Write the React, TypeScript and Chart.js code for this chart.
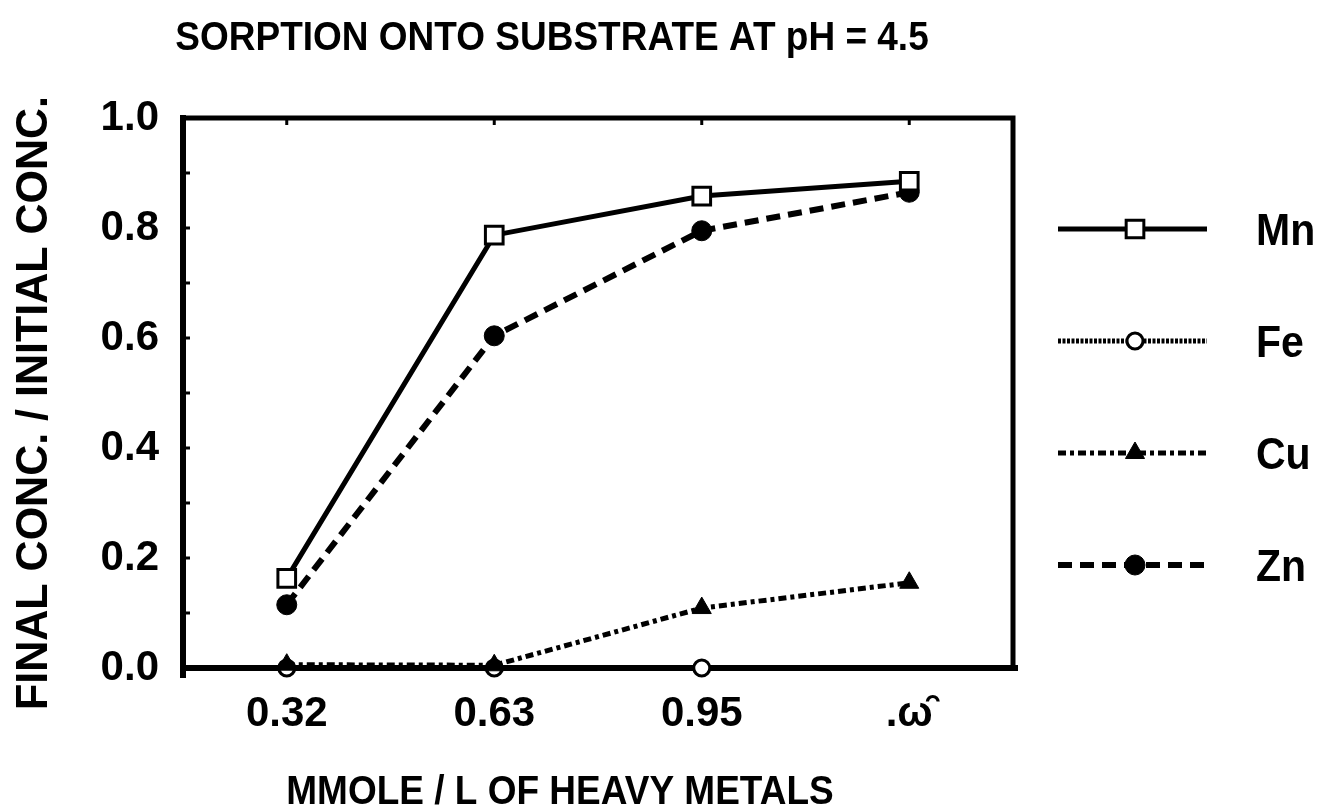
import { useEffect, useRef } from 'react';
import { Chart, registerables } from 'chart.js';
import { drawPoint } from 'chart.js/helpers';

Chart.register(...registerables);

const categories = ['0.32', '0.63', '0.95', '.\u03C9\u0311'];
const mnValues = [0.163, 0.787, 0.858, 0.885];
const feValues = [0.0, 0.0, 0.0, null];
const cuValues = [0.006, 0.005, 0.109, 0.155];
const znValues = [0.115, 0.604, 0.795, 0.865];
const yTicks = [0, 0.2, 0.4, 0.6, 0.8, 1.0];
const seriesNames = ['Mn', 'Fe', 'Cu', 'Zn'];
const titleText = 'SORPTION ONTO SUBSTRATE AT pH = 4.5';
const xTitleText = 'MMOLE / L OF HEAVY METALS';
const yTitleText = 'FINAL CONC. / INITIAL CONC.';

const FAMILY = '"Liberation Sans", Arial, Helvetica, sans-serif';

const framePlugin = {
  id: 'frame',
  beforeDatasetsDraw(chart: any) {
    const { ctx, chartArea } = chart;
    const { left, right, top, bottom } = chartArea;
    const y = chart.scales.y;
    const x = chart.scales.x;
    ctx.save();
    ctx.strokeStyle = '#000';
    ctx.setLineDash([]);
    ctx.lineWidth = 5;
    ctx.beginPath();
    ctx.moveTo(left, top);
    ctx.lineTo(right, top);
    ctx.lineTo(right, bottom);
    ctx.stroke();
    ctx.lineWidth = 6;
    ctx.beginPath();
    ctx.moveTo(left, top - 3);
    ctx.lineTo(left, bottom + 10);
    ctx.stroke();
    ctx.beginPath();
    ctx.moveTo(left, bottom);
    ctx.lineTo(right + 5, bottom);
    ctx.stroke();
    ctx.lineWidth = 3;
    for (let v = 0.1; v < 1; v += 0.1) {
      const py = y.getPixelForValue(v);
      ctx.beginPath();
      ctx.moveTo(left, py);
      ctx.lineTo(left + 7, py);
      ctx.stroke();
    }
    const n = categories.length;
    for (let i = 0; i < n; i++) {
      const px = x.getPixelForValue(i);
      ctx.beginPath();
      ctx.moveTo(px, top);
      ctx.lineTo(px, top + 7);
      ctx.stroke();
    }
    ctx.restore();
  },
};

function stretchedText(ctx: any, text: string, x: number, y: number, size: number, sx: number, sy: number, rot = 0) {
  ctx.save();
  ctx.translate(x, y);
  if (rot) ctx.rotate(rot);
  ctx.scale(sx, sy);
  ctx.font = `bold ${size}px ${FAMILY}`;
  ctx.fillText(text, 0, 0);
  ctx.restore();
}

const textPlugin = {
  id: 'texts',
  afterDraw(chart: any) {
    const { ctx } = chart;
    ctx.save();
    ctx.fillStyle = '#000';
    ctx.textAlign = 'center';
    ctx.textBaseline = 'middle';
    stretchedText(ctx, titleText, 552, 39, 37, 1, 1.12);
    stretchedText(ctx, xTitleText, 560, 793, 37, 1, 1.1);
    stretchedText(ctx, yTitleText, 35, 403, 43, 1, 1.05, -Math.PI / 2);
    ctx.restore();
  },
};

const legendPlugin = {
  id: 'customLegend',
  afterDraw(chart: any) {
    const { ctx } = chart;
    const x0 = 1058;
    const x1 = 1207;
    const xm = 1135;
    chart.data.datasets.forEach((ds: any, i: number) => {
      const yy = 229 + i * 112;
      ctx.save();
      ctx.strokeStyle = ds.borderColor;
      ctx.lineWidth = ds.borderWidth;
      ctx.setLineDash(ds.borderDash || []);
      ctx.beginPath();
      ctx.moveTo(x0, yy);
      ctx.lineTo(x1, yy);
      ctx.stroke();
      ctx.setLineDash([]);
      ctx.fillStyle = ds.pointBackgroundColor;
      ctx.strokeStyle = ds.pointBorderColor;
      ctx.lineWidth = ds.pointBorderWidth;
      drawPoint(ctx, { pointStyle: ds.pointStyle, radius: ds.pointRadius, rotation: 0, borderWidth: ds.pointBorderWidth }, xm, yy);
      ctx.fillStyle = '#000';
      ctx.textAlign = 'left';
      ctx.textBaseline = 'middle';
      ctx.translate(1256, yy + 4);
      ctx.scale(1, 1.1);
      ctx.font = `bold 41px ${FAMILY}`;
      ctx.fillText(ds.label, 0, 0);
      ctx.restore();
    });
  },
};

export default function App() {
  const ref = useRef<HTMLCanvasElement | null>(null);
  useEffect(() => {
    document.body.style.margin = '0';
    const canvas = ref.current;
    if (!canvas) return;
    const tickFont = { family: FAMILY, size: 42, weight: 'bold' as const };
    const chart = new Chart(canvas, {
      type: 'line',
      data: {
        labels: categories,
        datasets: [
          {
            label: seriesNames[0],
            data: mnValues,
            borderColor: '#000',
            borderWidth: 5,
            borderDash: [],
            pointStyle: 'rect',
            pointRadius: 12.5,
            pointBackgroundColor: '#fff',
            pointBorderColor: '#000',
            pointBorderWidth: 3,
            clip: false,
            order: 1,
          },
          {
            label: seriesNames[1],
            data: feValues,
            borderColor: '#000',
            borderWidth: 5,
            borderDash: [3, 1.5],
            pointStyle: 'circle',
            pointRadius: 8,
            pointBackgroundColor: '#fff',
            pointBorderColor: '#000',
            pointBorderWidth: 3,
            clip: false,
            order: 4,
          },
          {
            label: seriesNames[2],
            data: cuValues,
            borderColor: '#000',
            borderWidth: 5,
            borderDash: [8, 4, 4, 4],
            pointStyle: 'triangle',
            pointRadius: 11,
            pointBackgroundColor: '#000',
            pointBorderColor: '#000',
            pointBorderWidth: 1,
            clip: false,
            order: 3,
          },
          {
            label: seriesNames[3],
            data: znValues,
            borderColor: '#000',
            borderWidth: 6,
            borderDash: [14, 8],
            pointStyle: 'circle',
            pointRadius: 10,
            pointBackgroundColor: '#000',
            pointBorderColor: '#000',
            pointBorderWidth: 1,
            clip: false,
            order: 2,
          },
        ] as any,
      },
      options: {
        responsive: false,
        animation: false,
        layout: { padding: { left: 0, right: 309, top: 118, bottom: 0 } },
        plugins: {
          legend: { display: false },
          title: { display: false },
          tooltip: { enabled: false },
        },
        scales: {
          x: {
            type: 'category',
            offset: true,
            grid: { display: false },
            border: { display: false },
            ticks: { font: tickFont, color: '#000', padding: 13, maxRotation: 0 },
            afterFit(s: any) { s.height = 143; },
          },
          y: {
            type: 'linear',
            min: 0,
            max: 1,
            grid: { display: false },
            border: { display: false },
            ticks: {
              font: tickFont,
              color: '#000',
              padding: 16,
              callback: (v: any) => Number(v).toFixed(1),
            },
            afterBuildTicks(s: any) { s.ticks = yTicks.map((v) => ({ value: v })); },
            afterFit(s: any) { s.width = 183; },
          },
        },
      } as any,
      plugins: [framePlugin, textPlugin, legendPlugin],
    });
    return () => chart.destroy();
  }, []);
  return <canvas ref={ref} width={1322} height={811} style={{ display: 'block', width: 1322, height: 811 }} />;
}
